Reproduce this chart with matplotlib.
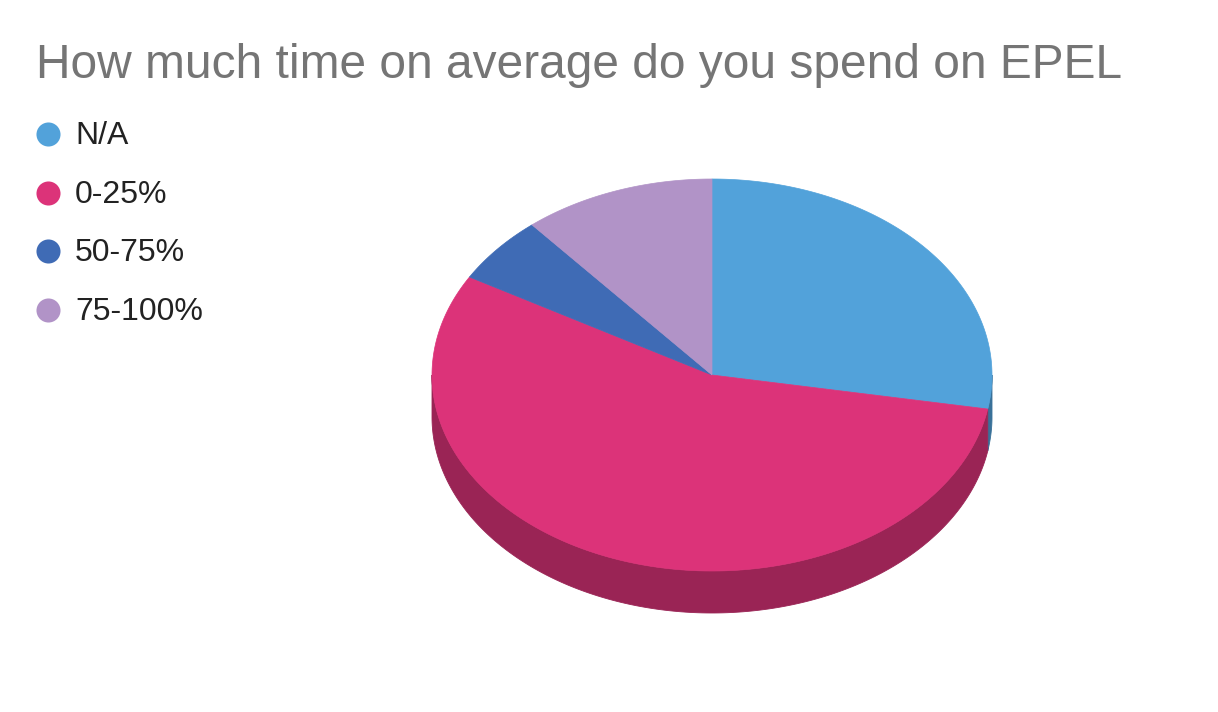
import numpy as np
import matplotlib
matplotlib.use("Agg")
import matplotlib.pyplot as plt
from matplotlib.colors import to_rgb

plt.rcParams['font.family'] = ['Liberation Sans', 'DejaVu Sans']

title = "How much time on average do you spend on EPEL"
labels = ["N/A", "0-25%", "50-75%", "75-100%"]
counts = [5, 10, 1, 2]
colors = ["#52a2da", "#dc3379", "#3f6bb5", "#b193c7"]

W, H = 1218, 712
fig = plt.figure(figsize=(W / 100, H / 100), dpi=100)
ax = fig.add_axes([0, 0, 1, 1])
ax.set_xlim(0, W)
ax.set_ylim(H, 0)
ax.set_aspect('equal')
ax.axis('off')

# pie geometry (pixels)
cx, cy = 712, 375
rx, ry = 280, 196
depth = 42


def darker(c, f=0.7):
    r, g, b = to_rgb(c)
    return (r * f, g * f, b * f)


def arc(a0, a1, n=200, dy=0):
    t = np.linspace(a0, a1, n)
    return cx + rx * np.sin(t), cy - ry * np.cos(t) + dy


vals = np.array(counts, dtype=float)
edges = np.concatenate([[0], np.cumsum(vals) / vals.sum() * 2 * np.pi])

# side walls (front half, clockwise angle pi/2 .. 3pi/2)
for i in range(len(vals)):
    a0 = max(edges[i], np.pi / 2)
    a1 = min(edges[i + 1], 3 * np.pi / 2)
    if a1 <= a0:
        continue
    xt, yt = arc(a0, a1)
    xb, yb = arc(a0, a1, dy=depth)
    xs = np.concatenate([xt, xb[::-1]])
    ys = np.concatenate([yt, yb[::-1]])
    ax.fill(xs, ys, color=darker(colors[i]), lw=0.6, ec=darker(colors[i]))

# top face
for i in range(len(vals)):
    xt, yt = arc(edges[i], edges[i + 1])
    xs = np.concatenate([[cx], xt, [cx]])
    ys = np.concatenate([[cy], yt, [cy]])
    ax.fill(xs, ys, color=colors[i], ec=colors[i], lw=0.5)

# title
ax.text(36, 66, title, fontsize=34.5, color="#757575", ha='left', va='center')

# legend
for i, lab in enumerate(labels):
    y = 134 + i * 58.7
    ax.scatter([48], [y], s=300, color=colors[i], lw=0)
    ax.text(75, y + 2, lab, fontsize=23, color="#222222", ha='left', va='center')

fig.savefig("out.png", dpi=100, facecolor="white")
